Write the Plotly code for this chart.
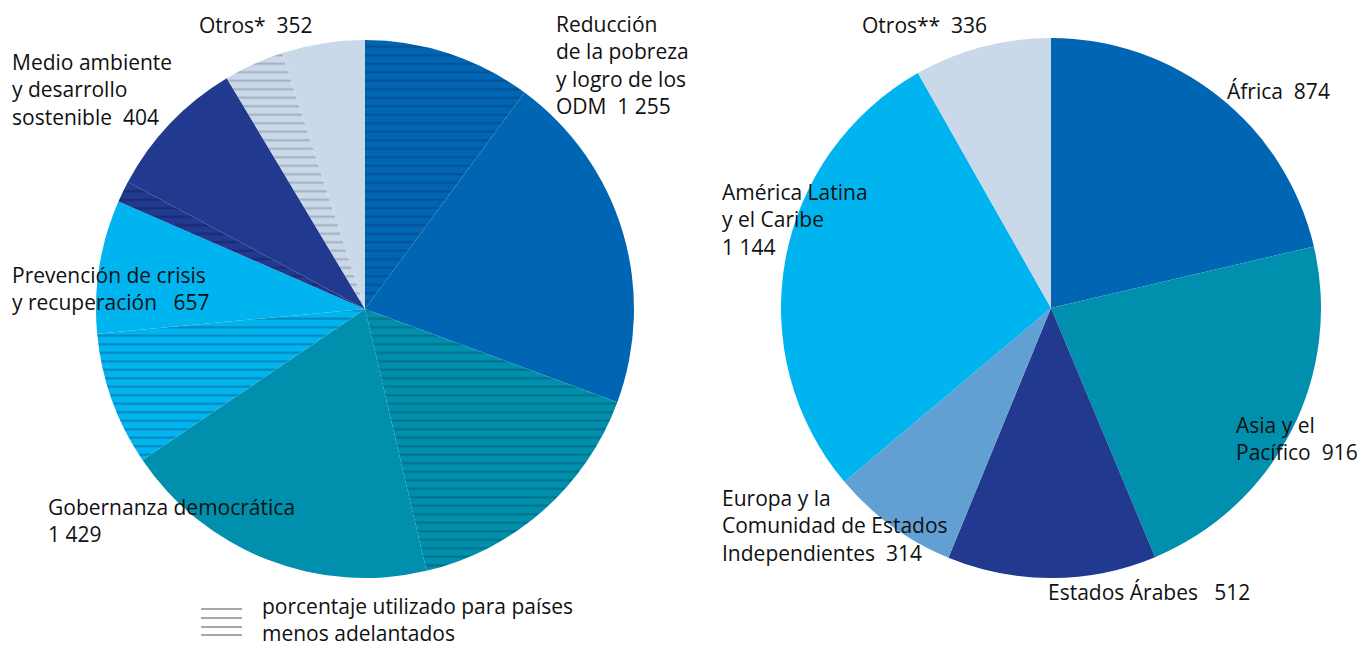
import plotly.graph_objects as go

W, H = 1360, 648

# ---- Left pie: funds by practice area ----
left_labels = ["Reducción de la pobreza y logro de los ODM", "Gobernanza democrática",
               "Prevención de crisis y recuperación", "Medio ambiente y desarrollo sostenible",
               "Otros*"]
left_values = [1255, 1429, 657, 404, 352]
left_ldc_share = [0.33, 0.45, 0.50, 0.13, 0.42]   # hatched share (países menos adelantados)
left_colors = ["#0066b3", "#0090ad", "#00b5ef", "#21398e", "#c9d9ea"]
left_hatch = ["#0a3c70", "#005366", "#0b5585", "#0e1f5a", "#7b8796"]

# ---- Right pie: funds by region ----
right_labels = ["África", "Asia y el Pacífico", "Estados Árabes",
                "Europa y la Comunidad de Estados Independientes",
                "América Latina y el Caribe", "Otros**"]
right_values = [874, 916, 512, 314, 1144, 336]
right_colors = ["#0066b3", "#0090ad", "#21398e", "#62a0d4", "#00b5ef", "#c9d9ea"]

# split left slices into hatched + solid parts
lv, lc, lf, ls, ll = [], [], [], [], []
for lab, v, s, c, h in zip(left_labels, left_values, left_ldc_share, left_colors, left_hatch):
    lv += [v * s, v * (1 - s)]
    lc += [c, c]
    lf += [h, h]
    ls += ["-", ""]
    ll += [lab + " (PMA)", lab]

def px_x(x):
    return x / W

def px_y(y):
    return 1 - y / H

fig = go.Figure()
fig.add_trace(go.Pie(
    labels=ll, values=lv, sort=False, direction="clockwise", rotation=0,
    textinfo="none", hoverinfo="label+value",
    marker=dict(colors=lc, line=dict(width=0),
                pattern=dict(shape=ls, fgcolor=lf, size=8.5, solidity=0.24, fillmode="overlay")),
    domain=dict(x=[px_x(96), px_x(634)], y=[px_y(578), px_y(40)]),
    showlegend=False,
))
fig.add_trace(go.Pie(
    labels=right_labels, values=right_values, sort=False, direction="clockwise", rotation=0,
    textinfo="none", hoverinfo="label+value",
    marker=dict(colors=right_colors, line=dict(width=0)),
    domain=dict(x=[px_x(781), px_x(1321)], y=[px_y(578), px_y(38)]),
    showlegend=False,
))

FONT = dict(family="Open Sans, Noto Sans, sans-serif", size=21, color="#111111")

label_specs = [
    ("Otros*  352", 198, 25),
    ("Reducción<br>de la pobreza<br>y logro de los<br>ODM  1 255", 555, 65),
    ("Medio ambiente<br>y desarrollo<br>sostenible  404", 11, 90),
    ("Prevención de crisis<br>y recuperación   657", 11, 288),
    ("Gobernanza democrática<br>1 429", 47, 520),
    ("porcentaje utilizado para países<br>menos adelantados", 261, 619),
    ("Otros**  336", 861, 25),
    ("África  874", 1226, 91),
    ("América Latina<br>y el Caribe<br>1 144", 721, 219),
    ("Asia y el<br>Pacífico  916", 1235, 438),
    ("Europa y la<br>Comunidad de Estados<br>Independientes  314", 721, 525),
    ("Estados Árabes   512", 1047, 592),
]
annotations = []
for text, x, y in label_specs:
    annotations.append(dict(text=text, x=px_x(x), y=px_y(y), xref="paper", yref="paper",
                            xanchor="left", yanchor="middle", align="left", borderpad=0,
                            showarrow=False, font=FONT))

# legend swatch (hatch lines)
shapes = []
for yy in [609, 618, 627, 635]:
    shapes.append(dict(type="line", xref="paper", yref="paper",
                       x0=px_x(201), x1=px_x(242), y0=px_y(yy), y1=px_y(yy),
                       line=dict(color="#8a8a8a", width=1.5)))

fig.update_layout(
    width=W, height=H, margin=dict(l=0, r=0, t=0, b=0),
    paper_bgcolor="white", plot_bgcolor="white",
    annotations=annotations, shapes=shapes,
)
fig.write_html("out.html", config={"displayModeBar": False},
               post_script="document.body.style.margin='0';document.body.style.overflow='hidden';")
